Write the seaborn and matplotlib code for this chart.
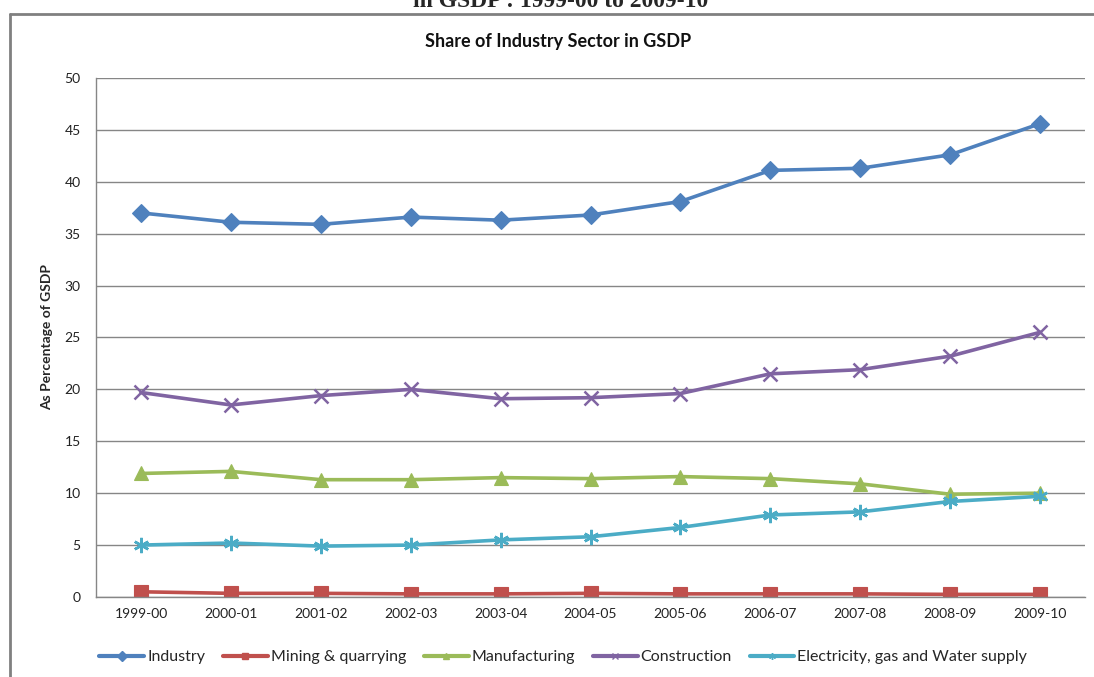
import matplotlib
matplotlib.use("Agg")
import matplotlib.pyplot as plt
from matplotlib.lines import Line2D
import seaborn as sns
import pandas as pd

years = ["1999-00", "2000-01", "2001-02", "2002-03", "2003-04", "2004-05",
         "2005-06", "2006-07", "2007-08", "2008-09", "2009-10"]
industry = [37.0, 36.1, 35.9, 36.6, 36.3, 36.8, 38.1, 41.1, 41.3, 42.6, 45.6]
mining = [0.5, 0.35, 0.35, 0.3, 0.3, 0.35, 0.3, 0.3, 0.3, 0.25, 0.25]
manufacturing = [11.9, 12.1, 11.3, 11.3, 11.5, 11.4, 11.6, 11.4, 10.9, 9.9, 10.0]
construction = [19.7, 18.5, 19.4, 20.0, 19.1, 19.2, 19.6, 21.5, 21.9, 23.2, 25.5]
electricity = [5.0, 5.2, 4.9, 5.0, 5.5, 5.8, 6.7, 7.9, 8.2, 9.2, 9.7]

series_names = ["Industry", "Mining & quarrying", "Manufacturing",
                "Construction", "Electricity, gas and Water supply"]
series_values = [industry, mining, manufacturing, construction, electricity]

colors = ["#4F81BD", "#C0504D", "#9BBB59", "#8064A2", "#4BACC6"]
markers = ["D", "s", "^", "x", (6, 2, 0)]
msizes = [9, 10, 10, 10, 11]

sns.set_theme(style="white")
plt.rcParams["font.family"] = ["Lato", "DejaVu Sans"]

fig = plt.figure(figsize=(10.94, 6.77), dpi=100)
ax = fig.add_axes([0.0878, 0.1182, 0.904, 0.7666])

df = pd.DataFrame({"year": years})
handles = []
for name, vals, c, m, ms in zip(series_names, series_values, colors, markers, msizes):
    df[name] = vals
    sns.lineplot(data=df, x="year", y=name, ax=ax, color=c, linewidth=2.6,
                 marker=m, markersize=ms, markeredgecolor=c,
                 markeredgewidth=1.8 if m in ("x",) or isinstance(m, tuple) else 0.8,
                 sort=False, legend=False)
    handles.append(Line2D([0], [0], color=c, linewidth=3, marker=m,
                          markersize=5, markeredgecolor=c, label=name))

ax.set_xlim(-0.5, len(years) - 0.5)
ax.set_ylim(0, 50)
ax.set_yticks(range(0, 51, 5))
ax.set_xticks(range(len(years)))
ax.set_xticklabels(years)
ax.set_xticks([i - 0.5 for i in range(len(years) + 1)], minor=True)
ax.tick_params(axis="x", which="major", length=0, pad=8, labelsize=10, labelcolor="#222222")
ax.tick_params(axis="x", which="minor", length=5, width=1, color="#868686", direction="out")
ax.tick_params(axis="y", length=5, width=1, color="#868686", direction="out",
               labelsize=10, labelcolor="#222222", pad=6)

ax.grid(axis="y", color="#868686", linewidth=1)
ax.set_axisbelow(True)
for side in ("top", "right"):
    ax.spines[side].set_visible(False)
for side in ("left", "bottom"):
    ax.spines[side].set_color("#868686")
    ax.spines[side].set_linewidth(1)

ax.set_xlabel("")
ax.set_ylabel("As Percentage of GSDP", fontsize=10, fontweight="bold", labelpad=8)

fig.text(0.510, 0.938, "Share of Industry Sector in GSDP", ha="center", va="center",
         fontsize=13, fontweight="bold", color="#111111")

fig.text(0.512, 1 - 7 / 677, "in GSDP : 1999-00 to 2009-10", ha="center", va="baseline",
         fontsize=17, fontweight="bold", family=["Liberation Serif", "DejaVu Serif"])

# outer chart frame
fig.add_artist(Line2D([10 / 1094, 10 / 1094], [0, 1 - 14 / 677], transform=fig.transFigure,
                      color="#808080", linewidth=2))
fig.add_artist(Line2D([10 / 1094, 1], [1 - 14 / 677, 1 - 14 / 677], transform=fig.transFigure,
                      color="#808080", linewidth=2))

fig.legend(handles=handles, loc="center", bbox_to_anchor=(0.515, 1 - 657 / 677), ncol=5,
           frameon=False, fontsize=11.5, handlelength=2.8, handletextpad=0.2,
           columnspacing=1.1)

fig.savefig("out.png", dpi=100)
